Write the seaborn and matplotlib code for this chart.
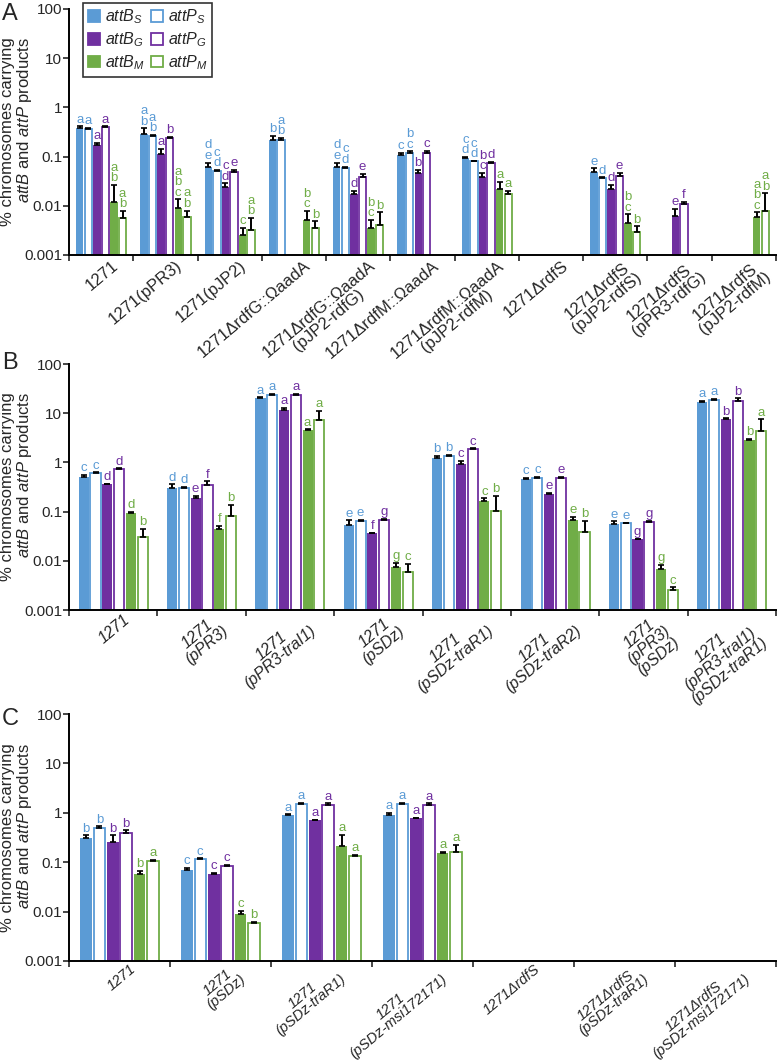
import numpy as np
import pandas as pd
import matplotlib
matplotlib.use("Agg")
import matplotlib.pyplot as plt
import seaborn as sns
from matplotlib.patches import Patch
from matplotlib.ticker import NullLocator
from matplotlib.transforms import ScaledTranslation

sns.set_style("ticks")
plt.rcParams["font.family"] = ["Liberation Sans", "DejaVu Sans"]
plt.rcParams["mathtext.fontset"] = "custom"
plt.rcParams["mathtext.it"] = "Liberation Sans:italic"
plt.rcParams["mathtext.rm"] = "Liberation Sans"

products = ["attB_S", "attP_S", "attB_G", "attP_G", "attB_M", "attP_M"]
legend_labels = [r"$attB_S$", r"$attP_S$", r"$attB_G$", r"$attP_G$", r"$attB_M$", r"$attP_M$"]
colors = ["#5B9BD5", "#5B9BD5", "#7030A0", "#7030A0", "#70AD47", "#70AD47"]
is_open = [False, True, False, True, False, True]
nan = np.nan

# ---------------- Panel A ----------------
strains_a = ["1271", "1271(pPR3)", "1271(pJP2)", "1271\u0394rdfG::\u03A9aadA",
             "1271\u0394rdfG::\u03A9aadA\n(pJP2-rdfG)", "1271\u0394rdfM::\u03A9aadA",
             "1271\u0394rdfM::\u03A9aadA\n(pJP2-rdfM)", "1271\u0394rdfS",
             "1271\u0394rdfS\n(pJP2-rdfS)", "1271\u0394rdfS\n(pPR3-rdfG)",
             "1271\u0394rdfS\n(pJP2-rdfM)"]
vals_a = [
    [0.39, 0.37, 0.173, 0.40, 0.0118, 0.0056],
    [0.286, 0.264, 0.114, 0.237, 0.0089, 0.0060],
    [0.061, 0.052, 0.0246, 0.048, 0.0026, 0.0032],
    [0.219, 0.219, nan, nan, 0.0052, 0.0036],
    [0.0628, 0.058, 0.0174, 0.0393, 0.0035, 0.0041],
    [0.108, 0.121, 0.046, 0.121, nan, nan],
    [0.0927, 0.082, 0.038, 0.0757, 0.0217, 0.0172],
    [nan, nan, nan, nan, nan, nan],
    [0.048, 0.0375, 0.0217, 0.0406, 0.0045, 0.0030],
    [nan, nan, 0.0062, 0.0107, nan, nan],
    [nan, nan, nan, nan, 0.0060, 0.0079],
]
errtop_a = [
    [0.41, 0.39, 0.19, 0.41, 0.0266, 0.0079],
    [0.373, 0.276, 0.144, 0.255, 0.0136, 0.0080],
    [0.0757, 0.054, 0.0287, 0.0536, 0.0036, 0.0056],
    [0.268, 0.24, nan, nan, 0.0079, 0.0048],
    [0.0757, 0.0628, 0.0204, 0.0444, 0.0052, 0.0074],
    [0.12, 0.128, 0.054, 0.133, nan, nan],
    [0.10, 0.083, 0.047, 0.079, 0.031, 0.020],
    [nan, nan, nan, nan, nan, nan],
    [0.058, 0.038, 0.0266, 0.046, 0.0067, 0.0038],
    [nan, nan, 0.0086, 0.0122, nan, nan],
    [nan, nan, nan, nan, 0.0074, 0.018],
]
letters_a = [
    ["a", "a", "a", "a", "a\nb", "a\nb"],
    ["a\nb", "a\nb", "a", "b", "a\nb\nc", "a\nb"],
    ["d\ne", "c\nd", "c\nd", "e", "c", "a\nb"],
    ["b", "a\nb", "", "", "b\nc", "b"],
    ["d\ne", "c\nd", "d", "e", "b\nc", "b"],
    ["c", "b\nc", "b", "c", "", ""],
    ["c\nd", "c\nd", "b\nc", "d", "a", "a"],
    ["", "", "", "", "", ""],
    ["e", "d", "d", "e", "b\nc", "b"],
    ["", "", "e", "f", "", ""],
    ["", "", "", "", "a\nb\nc", "a\nb"],
]

# ---------------- Panel B ----------------
strains_b = ["1271", "1271\n(pPR3)", "1271\n(pPR3-traI1)", "1271\n(pSDz)",
             "1271\n(pSDz-traR1)", "1271\n(pSDz-traR2)", "1271\n(pPR3)\n(pSDz)",
             "1271\n(pPR3-traI1)\n(pSDz-traR1)"]
vals_b = [
    [0.515, 0.602, 0.36, 0.726, 0.0955, 0.030],
    [0.298, 0.307, 0.19, 0.354, 0.044, 0.082],
    [19.9, 23.6, 11.7, 23.6, 4.58, 7.3],
    [0.0535, 0.0646, 0.0362, 0.0677, 0.0076, 0.0058],
    [1.216, 1.36, 0.918, 1.85, 0.167, 0.103],
    [0.455, 0.49, 0.229, 0.49, 0.0677, 0.039],
    [0.056, 0.058, 0.0274, 0.0607, 0.0068, 0.00255],
    [16.5, 18.7, 7.55, 17.8, 2.87, 4.44],
]
errtop_b = [
    [0.55, 0.63, 0.37, 0.76, 0.10, 0.044],
    [0.36, 0.315, 0.21, 0.41, 0.051, 0.137],
    [21.0, 25.0, 12.8, 24.5, 4.7, 11.3],
    [0.066, 0.067, 0.037, 0.071, 0.0092, 0.0086],
    [1.37, 1.42, 1.07, 1.93, 0.186, 0.21],
    [0.49, 0.51, 0.24, 0.51, 0.079, 0.064],
    [0.063, 0.060, 0.028, 0.064, 0.0082, 0.0029],
    [17.8, 19.8, 7.9, 20.0, 3.0, 7.55],
]
letters_b = [
    ["c", "c", "d", "d", "d", "b"],
    ["d", "d", "e", "f", "f", "b"],
    ["a", "a", "a", "a", "a", "a"],
    ["e", "e", "f", "g", "g", "c"],
    ["b", "b", "c", "c", "c", "b"],
    ["c", "c", "e", "e", "e", "b"],
    ["e", "e", "g", "g", "g", "c"],
    ["a", "a", "b", "b", "b", "a"],
]

# ---------------- Panel C ----------------
strains_c = ["1271", "1271\n(pSDz)", "1271\n(pSDz-traR1)", "1271\n(pSDz-msi172171)",
             "1271\u0394rdfS", "1271\u0394rdfS\n(pSDz-traR1)",
             "1271\u0394rdfS\n(pSDz-msi172171)"]
vals_c = [
    [0.311, 0.496, 0.258, 0.393, 0.0565, 0.108],
    [0.069, 0.117, 0.058, 0.0832, 0.0091, 0.0060],
    [0.894, 1.54, 0.709, 1.47, 0.211, 0.133],
    [0.894, 1.54, 0.79, 1.47, 0.155, 0.16],
    [nan] * 6,
    [nan] * 6,
    [nan] * 6,
]
errtop_c = [
    [0.35, 0.53, 0.35, 0.44, 0.066, 0.113],
    [0.077, 0.12, 0.060, 0.087, 0.0103, 0.0062],
    [0.93, 1.6, 0.73, 1.55, 0.36, 0.143],
    [0.99, 1.6, 0.80, 1.55, 0.16, 0.228],
    [nan] * 6,
    [nan] * 6,
    [nan] * 6,
]
letters_c = [
    ["b", "b", "b", "b", "b", "a"],
    ["c", "c", "c", "c", "c", "b"],
    ["a", "a", "a", "a", "a", "a"],
    ["a", "a", "a", "a", "a", "a"],
    [""] * 6,
    [""] * 6,
    [""] * 6,
]

yticks = [0.001, 0.01, 0.1, 1, 10, 100]
ytick_labels = ["0.001", "0.01", "0.1", "1", "10", "100"]
ylabel = "% chromosomes carrying\n$attB$ and $attP$ products"

W, H = 777, 1063
fig = plt.figure(figsize=(W / 100, H / 100), dpi=100)

def px_axes(left, right, top, bottom):
    return fig.add_axes([left / W, 1 - bottom / H, (right - left) / W, (bottom - top) / H])

# tag, strains, values, error tops, letters, axes box (px), italic, tag y, label size, line spacing, pad
panels = [
    ("A", strains_a, vals_a, errtop_a, letters_a, (69, 776, 9, 255), False, 3, 12, 1.0, 2.0),
    ("B", strains_b, vals_b, errtop_b, letters_b, (69, 776, 364, 610), True, 352, 11.5, 1.0, 1.2),
    ("C", strains_c, vals_c, errtop_c, letters_c, (69, 776, 714, 961), True, 708, 10.5, 0.92, 0.8),
]

dodge_w = 0.8
for tag, strains, vals, errtop, letters, box, italic, tag_y, lsize, lspace, lpad in panels:
    ax = px_axes(*box)
    rows = []
    for i, s in enumerate(strains):
        for j, p in enumerate(products):
            v = vals[i][j]
            if not np.isnan(v):
                rows.append({"strain": s, "product": p, "value": v})
    df = pd.DataFrame(rows)
    sns.barplot(data=df, x="strain", y="value", hue="product", order=strains,
                hue_order=products, palette=dict(zip(products, colors)),
                saturation=1, errorbar=None, width=dodge_w, gap=0.14,
                log_scale=True, legend=False, ax=ax)
    n = len(strains)
    step = dodge_w / len(products)
    for p in ax.patches:
        w = p.get_width()
        if w == 0 or np.isnan(w):
            continue
        xc = p.get_x() + w / 2
        ci = int(round(xc))
        hj = int(round((xc - ci + dodge_w / 2 - step / 2) / step))
        col = colors[hj]
        if is_open[hj]:
            p.set_facecolor("white")
            p.set_edgecolor(col)
            p.set_linewidth(1.3)
        else:
            p.set_facecolor(col)
            p.set_edgecolor(col)
            p.set_linewidth(0.0)
        v = vals[ci][hj]
        et = errtop[ci][hj]
        top = v
        if not np.isnan(et) and et > v:
            ax.errorbar([xc], [v], yerr=[[0], [et - v]], fmt="none", ecolor="black",
                        elinewidth=1.4, capsize=2.2, capthick=1.2, zorder=3)
            top = et
        lab = letters[ci][hj]
        if lab:
            ax.annotate(lab, (xc, top), xytext=(0, 0.5), textcoords="offset points",
                        ha="center", va="bottom", fontsize=9.5, color=col,
                        linespacing=0.82, annotation_clip=False)
    ax.set_yscale("log")
    ax.set_ylim(0.001, 100)
    ax.set_yticks(yticks)
    ax.set_yticklabels(ytick_labels)
    ax.yaxis.set_minor_locator(NullLocator())
    ax.set_xlim(-0.5, n - 0.5)
    ax.set_xticks(np.arange(n + 1) - 0.5)
    ax.set_xticklabels([""] * (n + 1))
    ax.set_xticks(np.arange(n), minor=True)
    ax.set_xticklabels(strains, minor=True, rotation=40, ha="right",
                       va="top", rotation_mode="anchor", fontsize=lsize,
                       fontstyle="italic" if italic else "normal",
                       multialignment="center", linespacing=lspace)
    ax.tick_params(axis="x", which="minor", length=0, pad=lpad)
    ax.tick_params(axis="x", which="major", length=4, width=1.2, direction="out")
    ax.tick_params(axis="y", which="major", length=4, width=1.2, labelsize=11, pad=1)
    offset = ScaledTranslation(10 / 100, 0, fig.dpi_scale_trans)
    for t in ax.get_xticklabels(minor=True):
        t.set_transform(t.get_transform() + offset)
    for s in ["top", "right"]:
        ax.spines[s].set_visible(False)
    for s in ["left", "bottom"]:
        ax.spines[s].set_linewidth(1.4)
        ax.spines[s].set_color("black")
    ax.set_xlabel("")
    ax.set_ylabel(ylabel, fontsize=12, linespacing=1.0, multialignment="right")
    ax.yaxis.set_label_coords(-0.05, 0.5)
    fig.text(2 / W, 1 - tag_y / H, tag, fontsize=17, va="top", ha="left")

    if tag == "A":
        handles = [Patch(facecolor=colors[j] if not is_open[j] else "white",
                         edgecolor=colors[j], linewidth=1.3) for j in range(6)]
        order = [0, 2, 4, 1, 3, 5]
        leg = ax.legend([handles[k] for k in order], [legend_labels[k] for k in order],
                        ncol=2, loc="upper left", bbox_to_anchor=(0.02, 1.025),
                        frameon=True, fancybox=False, edgecolor="black",
                        fontsize=11.5, handlelength=0.75, handleheight=0.75,
                        handletextpad=0.3, columnspacing=0.4, labelspacing=0.25,
                        borderpad=0.3, borderaxespad=0)
        leg.get_frame().set_linewidth(1.2)

fig.savefig("out.png", dpi=100)
